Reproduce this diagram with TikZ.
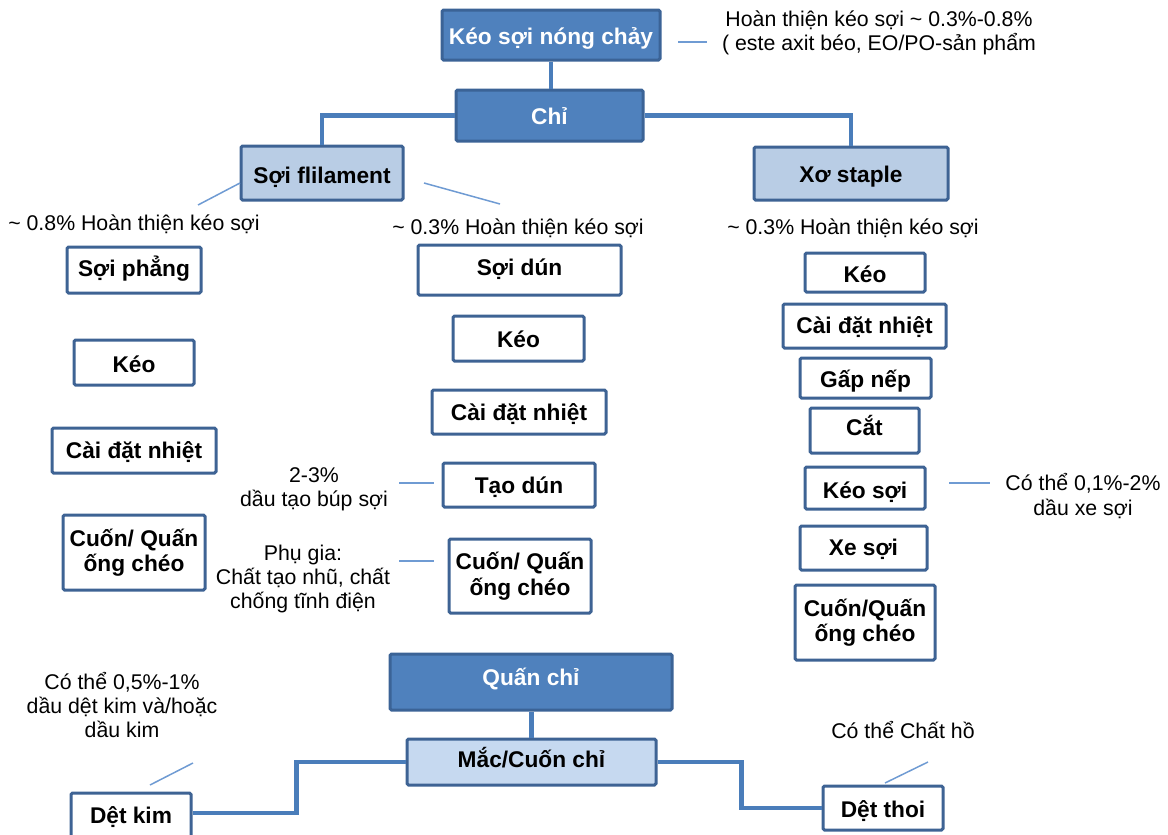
\documentclass[tikz,border=0pt]{standalone}
\usepackage{fontspec}
\setmainfont{Liberation Sans}
\usetikzlibrary{calc}
\definecolor{darkfill}{HTML}{4F81BD}
\definecolor{darkline}{HTML}{3B6396}
\definecolor{lightfill}{HTML}{B9CDE5}
\definecolor{lighterfill}{HTML}{C6D9F0}
\definecolor{boxline}{HTML}{3E6394}
\definecolor{conn}{HTML}{4A7DBA}
\definecolor{thin}{HTML}{6F9BD3}
\tikzset{
  basebox/.style={rectangle, rounded corners=1.5pt, line width=3pt, inner sep=0pt, align=center,
     font=\fontsize{22.7}{25.5}\selectfont\bfseries},
  darkbox/.style={basebox, draw=darkline, fill=darkfill, text=white},
  lightbox/.style={basebox, draw=boxline, fill=lightfill, text=black},
  lighterbox/.style={basebox, draw=boxline, fill=lighterfill, text=black},
  whitebox/.style={basebox, draw=boxline, fill=white, text=black},
  conline/.style={draw=conn, line width=4.5pt},
  annline/.style={draw=thin, line width=1.5pt},
  ann/.style={align=center, inner sep=0pt, font=\fontsize{21.3}{24.2}\selectfont},
  sz/.style 2 args={minimum width=#1pt, minimum height=#2pt},
  bl/.style={text height=#1pt, text depth=2pt}
}
\begin{document}
\begin{tikzpicture}[x=1pt, y=-1pt]
\useasboundingbox (0,0) rectangle (1168,835);
% top
\node[darkbox, sz={218}{50}, bl=22] (kns) at (551,35) {Kéo sợi nóng chảy};
\node[darkbox, sz={187}{51}, bl=19] (chi) at (549.5,115.5) {Chỉ};
\node[lightbox, sz={162}{54}, bl=22] (sf) at (322,173) {Sợi flilament};
\node[lightbox, sz={194}{53}, bl=19] (xs) at (851,173.5) {Xơ staple};
% left column
\node[whitebox, sz={134}{46}, bl=14] (l1) at (134,270) {Sợi phẳng};
\node[whitebox, sz={120}{45}, bl=21] (l2) at (134,362.5) {Kéo};
\node[whitebox, sz={164}{45}, bl=17] (l3) at (134,450.5) {Cài đặt nhiệt};
\node[whitebox, sz={142}{75}] (l4) at (134,552.5) {Cuốn/ Quấn\\ống chéo};
% middle column
\node[whitebox, sz={203}{50}, bl=12] (m1) at (519.5,270) {Sợi dún};
\node[whitebox, sz={131}{45}, bl=19] (m2) at (518.5,338.5) {Kéo};
\node[whitebox, sz={174}{44}, bl=18] (m3) at (519,412) {Cài đặt nhiệt};
\node[whitebox, sz={152}{44}, bl=18] (m4) at (519,485) {Tạo dún};
\node[whitebox, sz={142}{74}] (m5) at (520,576) {Cuốn/ Quấn\\ống chéo};
% right column
\node[whitebox, sz={120}{39}, bl=21] (r1) at (865,272.5) {Kéo};
\node[whitebox, sz={163}{44}, bl=16] (r2) at (864.5,326) {Cài đặt nhiệt};
\node[whitebox, sz={131}{40}, bl=20] (r3) at (865.5,378) {Gấp nếp};
\node[whitebox, sz={109}{45}, bl=11] (r4) at (864.5,430.5) {Cắt};
\node[whitebox, sz={120}{42}, bl=22] (r5) at (865,488) {Kéo sợi};
\node[whitebox, sz={127}{44}, bl=16] (r6) at (863.5,548) {Xe sợi};
\node[whitebox, sz={140}{75}] (r7) at (865,622.5) {Cuốn/Quấn\\ống chéo};
% bottom
\node[darkbox, sz={282}{56}, bl=8] (qc) at (531,682) {Quấn chỉ};
\node[lighterbox, sz={249}{46}, bl=12] (mac) at (531.5,762) {Mắc/Cuốn chỉ};
\node[whitebox, sz={120}{56}, bl=6] (dk) at (131,821) {Dệt kim};
\node[whitebox, sz={120}{44}, bl=20] (dt) at (883,808) {Dệt thoi};
% connectors
\draw[conline] (kns.south) -- (kns.south |- chi.north);
\draw[conline] (chi.west) -| (sf.north);
\draw[conline] (chi.east) -| (xs.north);
\draw[conline] (qc.south -| mac.north) -- (mac.north);
\coordinate (dkin) at ($(dk.east)+(0,-8)$);
\draw[conline] (mac.west) -- ++(-109,0) |- (dkin);
\draw[conline] (mac.east) -- ++(84,0) |- (dt.west);
% annotations
\node[ann] (a1) at (879,33) {Hoàn thiện kéo sợi \textasciitilde{} 0.3\%-0.8\%\\( este axit béo, EO/PO-sản phẩm};
\coordinate (a1s) at (678,42); \coordinate (a1e) at (707,42);
\draw[annline] (a1s) -- (a1e);
\node[ann] (a2) at (134,224) {\textasciitilde{} 0.8\% Hoàn thiện kéo sợi};
\node[ann] (a3) at (518,228) {\textasciitilde{} 0.3\% Hoàn thiện kéo sợi};
\node[ann] (a4) at (853,228) {\textasciitilde{} 0.3\% Hoàn thiện kéo sợi};
\coordinate (a2s) at (198,205); \coordinate (a2e) at (240,183);
\draw[annline] (a2s) -- (a2e);
\coordinate (a3s) at (424,183); \coordinate (a3e) at (500,204);
\draw[annline] (a3s) -- (a3e);
\node[ann] (a5) at (314,489) {2-3\%\\dầu tạo búp sợi};
\coordinate (a5s) at (399,483); \coordinate (a5e) at (434,483);
\draw[annline] (a5s) -- (a5e);
\node[ann] (a6) at (303,579) {Phụ gia:\\Chất tạo nhũ, chất\\chống tĩnh điện};
\coordinate (a6s) at (399,561); \coordinate (a6e) at (434,561);
\draw[annline] (a6s) -- (a6e);
\node[ann] (a7) at (1083,496) {Có thể 0,1\%-2\%\\dầu xe sợi};
\coordinate (a7s) at (949,483); \coordinate (a7e) at (990,483);
\draw[annline] (a7s) -- (a7e);
\node[ann] (a8) at (122,705) {Có thể 0,5\%-1\%\\dầu dệt kim và/hoặc\\dầu kim};
\coordinate (a8s) at (150,785); \coordinate (a8e) at (193,763);
\draw[annline] (a8s) -- (a8e);
\node[ann] (a9) at (903,730) {Có thể Chất hồ};
\coordinate (a9s) at (885,783); \coordinate (a9e) at (928,762);
\draw[annline] (a9s) -- (a9e);
\end{tikzpicture}
\end{document}
